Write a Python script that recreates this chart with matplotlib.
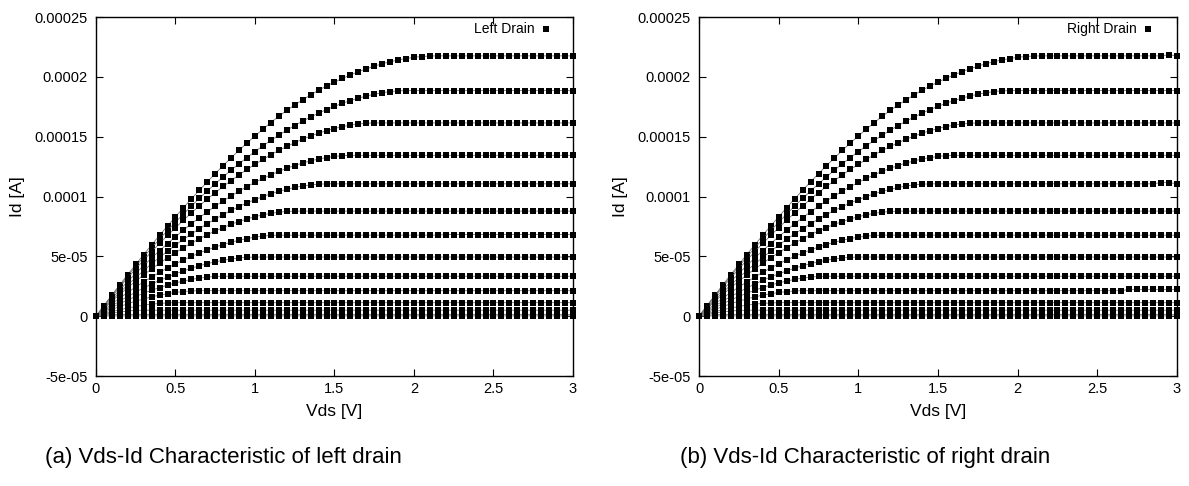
import numpy as np
import matplotlib.pyplot as plt
from matplotlib.lines import Line2D

plt.rcParams['font.family'] = ['Liberation Sans', 'DejaVu Sans']

# Vds sweep: 0 .. 3 V, 0.05 V step (61 points)
vds = np.linspace(0, 3, 61)

# Id [uA], one list per gate step, from Vds = 0 up to
# the point where the curve goes flat; the last value is the plateau.
id_vg1 = [0, 8.8, 17.6, 26.3, 34.8, 43.2, 51.5, 59.6, 67.6, 75.4, 83.1, 90.6,
          98.0, 105.2, 112.2, 119.1, 125.8, 132.3, 138.6, 144.7, 150.6, 156.3,
          161.8, 167.0, 172.0, 176.5, 180.8, 184.9, 188.8, 192.3, 195.6, 198.7,
          201.6, 204.3, 206.7, 208.9, 210.9, 212.6, 214.1, 215.3, 216.3, 217.0,
          217.4, 217.5]
id_vg2 = [0, 8.7, 17.2, 25.5, 33.7, 41.6, 49.4, 57.0, 64.4, 71.6, 78.5, 85.3,
          92.0, 98.4, 104.6, 110.6, 116.4, 122.0, 127.4, 132.6, 137.6, 142.3,
          146.9, 151.2, 155.4, 159.3, 163.0, 166.4, 169.7, 172.6, 175.4, 177.9,
          180.2, 182.2, 184.0, 185.5, 186.7, 187.7, 188.3, 188.5]
id_vg3 = [0, 8.3, 16.4, 24.3, 32.0, 39.5, 46.8, 53.9, 60.8, 67.5, 73.9, 80.2,
          86.3, 92.1, 97.8, 103.2, 108.4, 113.3, 118.1, 122.6, 126.9, 131.0,
          134.9, 138.5, 141.8, 145.0, 147.9, 150.5, 152.9, 155.0, 156.8, 158.4,
          159.6, 160.6, 161.2, 161.5]
id_vg4 = [0, 7.5, 14.9, 22.0, 29.0, 35.7, 42.3, 48.6, 54.8, 60.7, 66.4, 71.9,
          77.3, 82.3, 87.2, 91.9, 96.3, 100.5, 104.5, 108.3, 111.8, 115.1,
          118.2, 121.0, 123.6, 125.9, 128.0, 129.8, 131.3, 132.6, 133.5, 134.1,
          134.4]
id_vg5 = [0, 6.8, 13.5, 19.9, 26.2, 32.2, 38.1, 43.7, 49.1, 54.3, 59.4, 64.2,
          68.7, 73.1, 77.3, 81.2, 84.9, 88.4, 91.6, 94.7, 97.4, 100.0, 102.3,
          104.3, 106.1, 107.6, 108.8, 109.7, 110.3, 110.6]
id_vg6 = [0, 6.3, 12.4, 18.2, 23.9, 29.3, 34.5, 39.5, 44.3, 48.8, 53.1, 57.2,
          61.1, 64.7, 68.1, 71.2, 74.1, 76.8, 79.1, 81.3, 83.1, 84.7, 85.9,
          86.9, 87.5, 87.8]
id_vg7 = [0, 5.3, 10.3, 15.2, 19.9, 24.4, 28.6, 32.7, 36.6, 40.3, 43.7, 47.0,
          50.0, 52.8, 55.4, 57.8, 59.9, 61.8, 63.5, 64.9, 66.0, 66.9, 67.5, 67.7]
id_vg8 = [0, 4.4, 8.6, 12.6, 16.5, 20.1, 23.6, 26.8, 29.9, 32.8, 35.4, 37.8,
          40.1, 42.1, 43.9, 45.4, 46.8, 47.8, 48.7, 49.2, 49.4]
id_vg9 = [0, 3.7, 7.2, 10.5, 13.6, 16.5, 19.2, 21.7, 23.9, 26.0, 27.8, 29.4,
          30.7, 31.8, 32.6, 33.2, 33.4]
id_vg10 = [0, 2.9, 5.6, 8.1, 10.4, 12.5, 14.4, 16.1, 17.6, 18.8, 19.8, 20.6,
           21.1, 21.3]
id_vg11 = [0, 2.0, 3.8, 5.4, 6.8, 8.1, 9.2, 10.0, 10.7, 11.1, 11.3]
id_vg12 = [0, 1.4, 2.6, 3.6, 4.3, 4.8, 5.0]
id_vg13 = [0, 0.8, 1.3, 1.5]
id_vg14 = [0, 0.2]

curves = [id_vg1, id_vg2, id_vg3, id_vg4, id_vg5, id_vg6, id_vg7, id_vg8,
          id_vg9, id_vg10, id_vg11, id_vg12, id_vg13, id_vg14]

# small steps on the plateaus seen in each picture: {curve: {index: uA}}
left_steps = {6: {i: 68.2 for i in range(44, 61)}}
right_steps = {0: {59: 218.5},
               4: {58: 111.7, 59: 111.7},
               9: {i: 22.3 for i in range(54, 61)}}

yticks = [-5e-05, 0, 5e-05, 1e-04, 1.5e-04, 2e-04, 2.5e-04]
ytick_labels = ['-5e-05', '0', '5e-05', '0.0001', '0.00015', '0.0002', '0.00025']
xticks = [0, 0.5, 1, 1.5, 2, 2.5, 3]
xtick_labels = ['0', '0.5', '1', '1.5', '2', '2.5', '3']


def full_curve(rise, fix):
    vals = list(rise) + [rise[-1]] * (len(vds) - len(rise))
    for i, v in fix.items():
        vals[i] = v
    return np.array(vals) * 1e-6


def draw(ax, steps, name, leg_x):
    for k, rise in enumerate(curves):
        ax.plot(vds, full_curve(rise, steps.get(k, {})), color='0.45', lw=0.6,
                marker='s', ms=4.6, mfc='k', mec='k', mew=0, clip_on=False)
    ax.set_xlim(0, 3)
    ax.set_ylim(-5e-05, 2.5e-04)
    ax.set_xticks(xticks)
    ax.set_xticklabels(xtick_labels)
    ax.set_yticks(yticks)
    ax.set_yticklabels(ytick_labels)
    ax.tick_params(direction='in', top=True, right=True, length=5, width=0.8,
                   labelsize=10.5)
    ax.tick_params(axis='x', pad=4)
    ax.tick_params(axis='y', pad=6)
    for s in ax.spines.values():
        s.set_linewidth(1.0)
    ax.set_xlabel('Vds [V]', fontsize=12.5, labelpad=6)
    ax.set_ylabel('Id [A]', fontsize=12.5, labelpad=7)
    h = Line2D([], [], ls='none', marker='s', ms=4.6, mfc='k', mec='k', mew=0)
    ax.legend([h], [name], loc='upper right', frameon=False, markerfirst=False,
              fontsize=10, handlelength=0.8, handletextpad=0.4,
              borderpad=0, borderaxespad=0, bbox_to_anchor=(leg_x, 0.985))


fig = plt.figure(figsize=(11.89, 4.86), dpi=100)
ax1 = fig.add_axes([0.0807, 0.2263, 0.4012, 0.7387])
ax2 = fig.add_axes([0.5879, 0.2263, 0.4020, 0.7387])

draw(ax1, left_steps, 'Left Drain', 0.955)
draw(ax2, right_steps, 'Right Drain', 0.950)

fig.text(0.188, 0.058, '(a) Vds-Id Characteristic of left drain', fontsize=16,
         ha='center', va='center')
fig.text(0.728, 0.058, '(b) Vds-Id Characteristic of right drain', fontsize=16,
         ha='center', va='center')

fig.savefig('out.png', dpi=100)
